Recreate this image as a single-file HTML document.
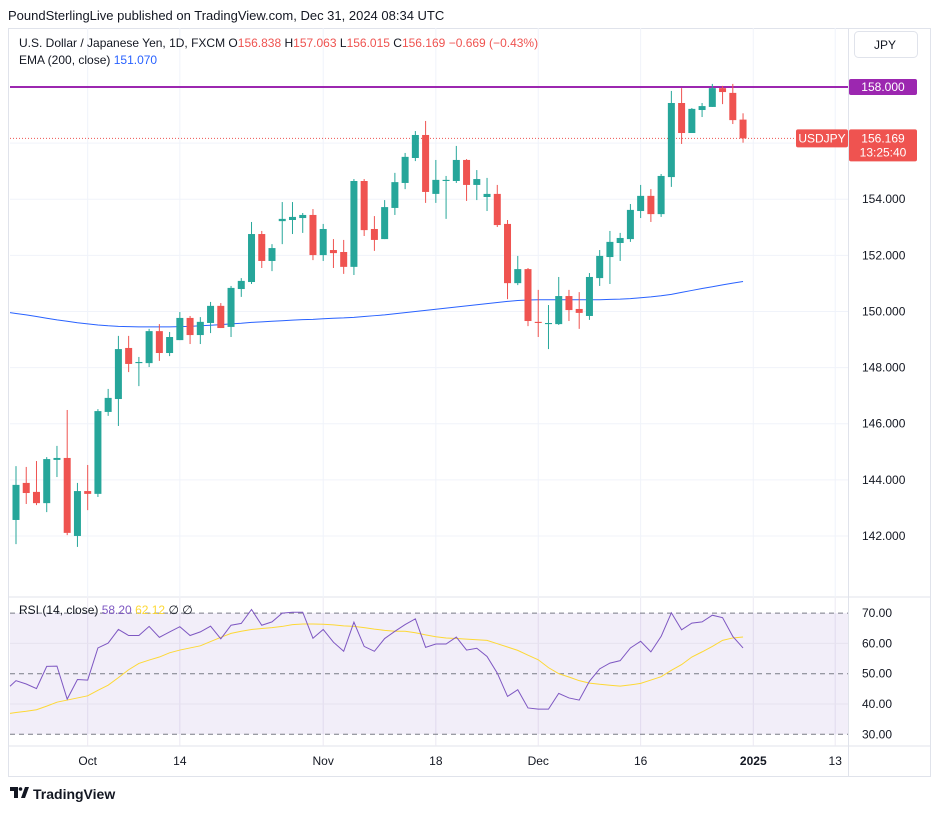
<!DOCTYPE html>
<html><head><meta charset="utf-8"><style>
body{margin:0;background:#fff;width:932px;height:810px;overflow:hidden;font-family:"Liberation Sans",sans-serif;}
svg text{font-family:"Liberation Sans",sans-serif;}
</style></head><body>
<svg id="c" width="932" height="810" xmlns="http://www.w3.org/2000/svg"></svg>
<script>
const opens=[142.57,143.89,143.57,143.17,144.71,144.78,142.00,143.60,143.50,146.42,146.88,148.70,148.16,148.16,149.30,148.52,148.98,149.77,149.16,149.59,150.20,149.45,150.80,151.05,152.76,151.80,153.22,153.26,153.33,153.44,152.01,152.19,152.12,151.59,154.65,152.94,152.58,153.69,154.58,155.47,156.29,154.19,154.65,154.65,155.40,154.51,154.08,154.19,153.12,151.01,151.51,149.63,149.55,149.55,150.55,150.09,149.84,151.19,151.94,152.44,152.58,153.58,154.12,153.47,154.79,157.43,156.36,157.18,157.29,157.96,157.79,156.838];
const highs=[144.49,144.46,144.67,144.81,145.21,146.49,143.89,144.53,146.52,147.24,149.13,149.13,148.38,149.38,149.55,149.27,149.98,149.84,149.80,150.34,150.30,150.91,151.19,153.19,152.87,152.40,153.90,153.90,153.51,153.65,153.12,152.58,152.55,154.72,154.72,153.40,153.97,154.94,155.65,156.43,156.79,155.40,154.83,155.90,155.43,155.04,154.76,154.51,153.26,151.98,151.55,150.77,150.23,151.23,150.77,150.69,151.37,152.19,152.87,152.80,153.83,154.51,154.36,154.90,157.86,157.96,157.25,157.43,158.11,158.04,158.11,157.063];
const lows=[141.71,143.14,143.10,142.85,144.10,142.03,141.61,142.92,143.39,146.28,145.92,147.84,147.34,148.02,148.24,148.41,148.98,148.84,148.84,149.23,149.41,149.09,150.52,150.98,151.55,151.44,152.40,152.76,152.80,151.83,151.80,151.55,151.34,151.30,152.69,152.16,152.58,153.44,154.36,155.36,153.87,153.87,153.30,154.58,153.94,153.97,153.58,153.01,150.44,150.94,149.48,149.09,148.66,149.52,149.66,149.38,149.70,150.91,150.98,151.80,152.48,153.33,153.19,153.37,154.44,155.97,156.36,156.93,157.29,157.39,156.68,156.015];
const closes=[143.82,143.53,143.17,144.74,144.78,142.11,143.60,143.50,146.45,146.92,148.66,148.13,148.20,149.30,148.52,149.09,149.77,149.16,149.63,150.20,149.41,150.84,151.09,152.76,151.80,152.26,153.30,153.37,153.44,152.01,152.94,152.08,151.59,154.65,152.90,152.55,153.72,154.61,155.51,156.29,154.26,154.69,154.69,155.40,154.51,154.72,154.19,153.08,151.01,151.51,149.66,149.59,149.59,150.55,150.05,149.95,151.23,151.98,152.48,152.62,153.62,154.12,153.47,154.83,157.43,156.36,157.22,157.32,157.96,157.82,156.82,156.169];
const ema=[149.93,149.88,149.82,149.76,149.70,149.65,149.60,149.56,149.52,149.49,149.47,149.46,149.45,149.45,149.45,149.45,149.46,149.47,149.49,149.51,149.53,149.56,149.58,149.61,149.63,149.65,149.67,149.69,149.71,149.72,149.74,149.76,149.77,149.79,149.82,149.85,149.88,149.92,149.96,150.00,150.04,150.08,150.12,150.16,150.20,150.24,150.28,150.32,150.36,150.39,150.41,150.42,150.42,150.42,150.42,150.42,150.42,150.42,150.43,150.44,150.46,150.49,150.52,150.56,150.61,150.68,150.75,150.82,150.88,150.95,151.01,151.07];
const rsiPrev=44.0;
const rsi=[47.7,46.6,45.1,52.4,52.5,41.6,48.1,47.9,58.5,60.1,64.6,62.6,62.6,65.6,62.0,63.8,65.5,62.6,63.8,65.7,61.5,66.0,66.6,71.2,66.0,67.1,70.0,70.3,70.3,61.7,64.6,60.4,57.4,67.0,59.0,57.4,61.6,64.0,66.2,68.1,58.7,59.8,59.8,62.1,57.8,58.4,55.7,50.2,42.5,44.7,38.7,38.3,38.3,43.5,42.0,41.3,47.5,51.6,53.5,54.3,58.5,60.7,57.2,62.3,70.1,64.5,66.7,67.1,69.3,68.5,62.3,58.5];
const rsiMa=[37.2,37.6,38.1,39.3,40.6,41.3,42.0,42.7,44.5,46.2,48.7,51.3,53.4,54.5,55.5,56.9,57.8,58.5,59.2,60.6,62.0,63.3,64.0,64.6,64.9,65.2,65.6,66.2,66.4,66.4,66.3,66.1,65.8,65.6,65.2,64.7,64.3,64.0,64.0,63.5,62.8,62.2,61.8,61.6,61.4,61.2,61.0,59.9,58.8,57.7,56.1,54.6,52.0,50.0,48.9,47.7,46.9,46.5,46.2,45.9,46.3,46.8,47.9,49.0,51.1,53.0,55.5,57.2,59.0,61.0,61.8,62.1];
const priceTicks=[142,144,146,148,150,152,154];
const rsiTicks=[30,40,50,60,70];
const timeLabels=["Oct","14","Nov","18","Dec","16","2025","13"];
const timeIdx=[7,16,30,41,51,61,72,80];
const hLevel=158.0;

const NS="http://www.w3.org/2000/svg";
const svg=document.getElementById('c');
function el(t,a,p){const e=document.createElementNS(NS,t);for(const k in a)e.setAttribute(k,a[k]);(p||svg).appendChild(e);return e;}
const X=i=>16+10.24*i;
const Y=p=>87+(158-p)*28.06;
const RY=v=>673.7-(v-50)*3.03;
const PL=10,PR=848;

let t=el('text',{x:8,y:20,'font-size':13,fill:'#131722'});t.textContent='PoundSterlingLive published on TradingView.com, Dec 31, 2024 08:34 UTC';

let fr=el('rect',{x:8.5,y:28.5,width:922,height:748,fill:'none',stroke:'#e0e3eb'});

el('line',{x1:8,y1:597,x2:931,y2:597,stroke:'#e0e3eb'});
el('line',{x1:8,y1:746,x2:931,y2:746,stroke:'#e0e3eb'});
el('line',{x1:848.5,y1:28,x2:848.5,y2:776,stroke:'#e0e3eb'});

const gm=el('g',{});
timeIdx.forEach(i=>{const x=X(i);if(x<PR){el('line',{x1:x,y1:28,x2:x,y2:597,stroke:'#f0f3fa'},gm);el('line',{x1:x,y1:598,x2:x,y2:746,stroke:'#ece9f3'},gm);}});
priceTicks.concat([156,158]).forEach(p=>el('line',{x1:PL,y1:Y(p),x2:PR,y2:Y(p),stroke:'#f0f3fa'},gm));

priceTicks.forEach(p=>{const tx=el('text',{x:862,y:Y(p)+4,'font-size':12,fill:'#131722'});tx.textContent=p.toFixed(3);
});

let d='';ema.forEach((v,i)=>{d+=(i?'L':'M')+X(i)+' '+Y(v);});
let ep=el('path',{d:'M'+PL+' '+Y(ema[0]+(ema[0]-ema[1])*0.6)+' L'+d.slice(1),fill:'none',stroke:'#2962ff','stroke-width':1});


let hl=el('line',{x1:PL,y1:Y(hLevel),x2:PR,y2:Y(hLevel),stroke:'#9c27b0','stroke-width':2});

const last=closes[closes.length-1];
let lp=el('line',{x1:PL,y1:Y(last),x2:PR,y2:Y(last),stroke:'#ef5350','stroke-width':1,'stroke-dasharray':'1 2'});


const cg=el('g',{});
opens.forEach((o,i)=>{
  const c=closes[i],up=c>=o,col=up?'#26a69a':'#ef5350',x=X(i);
  const g=el('g',{},cg);
  
  
  el('line',{x1:x,y1:Y(highs[i]),x2:x,y2:Y(lows[i]),stroke:col,'stroke-width':1},g);
  const top=Y(Math.max(o,c)),bot=Y(Math.min(o,c));
  el('rect',{x:x-3.5,y:top,width:7,height:Math.max(1,bot-top),fill:col},g);
});

let b1=el('rect',{x:849,y:Y(hLevel)-8,width:68,height:16,fill:'#9c27b0',rx:2});

t=el('text',{x:883,y:Y(hLevel)+4,'font-size':12,fill:'#fff','text-anchor':'middle'});t.textContent=hLevel.toFixed(3);
let b2=el('rect',{x:849,y:Y(last)-9,width:68,height:32,fill:'#ef5350',rx:2});

t=el('text',{x:883,y:Y(last)+4,'font-size':12,fill:'#fff','text-anchor':'middle'});t.textContent=last.toFixed(3);
t=el('text',{x:883,y:Y(last)+18,'font-size':12,fill:'#fff','text-anchor':'middle'});t.textContent='13:25:40';
let b3=el('rect',{x:796,y:Y(last)-9,width:52,height:18,fill:'#ef5350',rx:2});

t=el('text',{x:822,y:Y(last)+4,'font-size':12,fill:'#fff','text-anchor':'middle'});t.textContent='USDJPY';

const lg=el('text',{x:19,y:47,'font-size':12,fill:'#131722'});
lg.setAttribute('xml:space','preserve');
lg.innerHTML='U.S. Dollar / Japanese Yen, 1D, FXCM  O<tspan fill="#ef5350">156.838</tspan>  H<tspan fill="#ef5350">157.063</tspan>  L<tspan fill="#ef5350">156.015</tspan>  C<tspan fill="#ef5350">156.169</tspan>  <tspan fill="#ef5350">−0.669 (−0.43%)</tspan>';
const lg2=el('text',{x:19,y:64,'font-size':12,fill:'#131722'});
lg2.setAttribute('xml:space','preserve');
lg2.innerHTML='EMA (200, close)  <tspan fill="#2962ff">151.070</tspan>';
let jb=el('rect',{x:854.5,y:31.5,width:63,height:26,fill:'#fff',stroke:'#e0e3eb',rx:4});

t=el('text',{x:874,y:49,'font-size':12,fill:'#131722'});t.textContent='JPY';

let rb=el('rect',{x:PL,y:RY(70),width:PR-PL,height:RY(30)-RY(70),fill:'#7e57c2','fill-opacity':0.1});

[70,50,30].forEach(v=>el('line',{x1:PL,y1:RY(v),x2:PR,y2:RY(v),stroke:'#787b86','stroke-dasharray':'5 4'}));
[40,60].forEach(v=>el('line',{x1:PL,y1:RY(v),x2:PR,y2:RY(v),stroke:'#e6e2ef'}));
rsiTicks.forEach(v=>{const tx=el('text',{x:862,y:RY(v)+4,'font-size':12,fill:'#131722'});tx.textContent=v.toFixed(2);
});
d='M'+PL+' '+RY(rsiMa[0]-0.3);rsiMa.forEach((v,i)=>{d+='L'+X(i)+' '+RY(v);});
let mp=el('path',{d:d,fill:'none',stroke:'#fdd835','stroke-width':1});

d='M'+PL+' '+RY(rsiPrev+(rsi[0]-rsiPrev)*0.5);rsi.forEach((v,i)=>{d+='L'+X(i)+' '+RY(v);});
let rp=el('path',{d:d,fill:'none',stroke:'#7e57c2','stroke-width':1});

const rl=el('text',{x:19,y:614,'font-size':12,fill:'#131722'});
rl.setAttribute('xml:space','preserve');
rl.innerHTML='RSI (14, close)  <tspan fill="#7e57c2">58.20</tspan>  <tspan fill="#fdd835">62.12</tspan>  ∅  ∅';

timeLabels.forEach((s,i)=>{const tx=el('text',{x:X(timeIdx[i]),y:765,'font-size':12,fill:'#131722','text-anchor':'middle','font-weight':s==='2025'?'bold':'normal'});tx.textContent=s;
});

const lo=el('g',{});
el('path',{d:'M10 787h8v11h-4v-7h-4zM21 798l4-11h4l-4 11z',fill:'#131722'},lo);
el('circle',{cx:20.5,cy:789,r:1.8,fill:'#131722'},lo);
t=el('text',{x:33,y:799,'font-size':14,'font-weight':'bold',fill:'#131722'},lo);t.textContent='TradingView';
</script>
</body></html>
